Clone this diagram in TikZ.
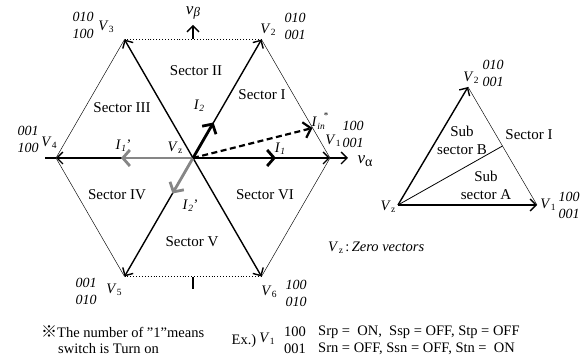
\documentclass[tikz,border=0pt]{standalone}
\usepackage{fontspec}
\setmainfont{Liberation Serif}
\newfontfamily\cjkfont{Noto Sans CJK JP}
\usetikzlibrary{arrows.meta,calc}
\newcommand\Vsub[1]{\textit{V}\kern0.3pt\raisebox{-0.35ex}{\fontsize{9.5}{9.5}\selectfont #1}}
\newcommand\Isub[1]{\textit{I}\kern0.3pt\raisebox{-0.35ex}{\fontsize{9.5}{9.5}\selectfont\itshape #1}}
\begin{document}
\begin{tikzpicture}[x=1pt,y=-1pt,
  every node/.style={inner sep=0pt},
  base/.style={font=\fontsize{14.5}{17}\selectfont},
  axl/.style={font=\fontsize{17}{17}\selectfont},
  sect/.style={font=\fontsize{15}{18}\selectfont, align=center},
  code/.style={font=\itshape\fontsize{14}{17}\selectfont, align=center},
  thinedge/.style={line width=0.45pt},
  dotedge/.style={line width=0.9pt, dotted},
  vec/.style={line width=1.4pt, -{Straight Barb[length=6pt,width=12pt]}},
  cur/.style={line width=2.8pt, -{Straight Barb[length=7pt,width=16pt]}},
  gcur/.style={cur, draw=gray!95},
  dcur/.style={line width=2.2pt, dash pattern=on 6pt off 3.5pt, -{Straight Barb[length=7pt,width=16pt]}},
  tick/.style={line width=2pt}
]
\useasboundingbox (0,0) rectangle (582,358);
% hexagon points
\coordinate (Vz) at (193,158);
\coordinate (V1) at (330,158);
\coordinate (V2) at (261.5,39.5);
\coordinate (V3) at (124.5,39.5);
\coordinate (V4) at (56,158);
\coordinate (V5) at (124.5,276.5);
\coordinate (V6) at (261.5,276.5);
\coordinate (ta) at (45,158);
\coordinate (tb1) at (193,277);
\coordinate (tb2) at (193,289);
\coordinate (bt) at (193,39.5);
\coordinate (btip) at (193,25);
\coordinate (atip) at (348,158);
\coordinate (I1e) at (276,158);
\coordinate (I2e) at (213.5,122.5);
\coordinate (Ine) at (312.5,128);
\coordinate (I1pe) at (121,158);
\coordinate (I2pe) at (172.5,193.5);
% hexagon edges
\draw[thinedge] (V1) -- (V2);
\draw[dotedge] (V2) -- (V3);
\draw[thinedge] (V3) -- (V4);
\draw[thinedge] (V4) -- (V5);
\draw[dotedge] (V5) -- (V6);
\draw[thinedge] (V6) -- (V1);
% axes
\draw[tick] (ta) -- (V4);
\draw[line width=1.6pt] (tb1) -- (tb2);
\draw[vec] (bt) -- (btip);
\draw[vec] (V1) -- (atip);
% voltage vectors
\draw[vec] (Vz) -- (V1);
\draw[vec] (Vz) -- (V2);
\draw[vec] (Vz) -- (V3);
\draw[vec] (Vz) -- (V4);
\draw[vec] (Vz) -- (V5);
\draw[vec] (Vz) -- (V6);
% currents
\draw[gcur] (Vz) -- (I1pe);
\draw[gcur] (Vz) -- (I2pe);
\draw[cur] (Vz) -- (I1e);
\draw[cur] (Vz) -- (I2e);
\draw[dcur] (Vz) -- (Ine);
% labels
\node[axl] (lb) at (193,13) {\textit{v}\raisebox{-0.3ex}{\fontsize{13}{13}\selectfont\itshape β}};
\node[axl] (la) at (365,161) {\textit{v}\raisebox{-0.3ex}{\fontsize{14}{14}\selectfont α}};
\node[base] (l1) at (333,141) {\Vsub{1}};
\node[code] (c1) at (353,134) {100\\001};
\node[base] (l2) at (268,30) {\Vsub{2}};
\node[code] (c2) at (295,26) {010\\001};
\node[base] (l3) at (106,27) {\Vsub{3}};
\node[code] (c3) at (83,25) {010\\100};
\node[base] (l4) at (49,143) {\Vsub{4}};
\node[code] (c4) at (28,139) {001\\100};
\node[base] (l5) at (114,290) {\Vsub{5}};
\node[code] (c5) at (86,291) {001\\010};
\node[base] (l6) at (269,292) {\Vsub{6}};
\node[code] (c6) at (296,293) {100\\010};
\node[base] (lz) at (175,148) {\Vsub{z}};
\node[sect] (s1) at (262,95) {Sector I};
\node[sect] (s2) at (196,71) {Sector II};
\node[sect] (s3) at (122,108) {Sector III};
\node[sect] (s4) at (117,195) {Sector IV};
\node[sect] (s5) at (192,242) {Sector V};
\node[sect] (s6) at (265,195) {Sector VI};
\node[base] (i1) at (280,149) {\Isub{1}};
\node[base] (i2) at (199,106) {\Isub{2}};
\node[base] (iin) at (320,121) {\textit{I}\kern0.3pt\raisebox{-0.35ex}{\fontsize{9.5}{9.5}\selectfont\itshape in}\kern-1pt\raisebox{1.2ex}{\fontsize{9}{9}\selectfont *}};
\node[base] (i1p) at (123,146) {\Isub{1}\kern-0.5pt\textit{'}};
\node[base] (i2p) at (190,206) {\Isub{2}\kern-0.5pt\textit{'}};
% right triangle
\coordinate (Tz) at (398,205);
\coordinate (T1) at (537,205);
\coordinate (T2) at (468,87);
\coordinate (Tm) at ($(T1)!0.5!(T2)$);
\draw[thinedge] (T1) -- (T2);
\draw[line width=0.8pt] (Tz) -- (Tm);
\draw[vec] (Tz) -- (T1);
\draw[vec] (Tz) -- (T2);
\node[base] (rz) at (388,207) {\Vsub{z}};
\node[base] (r1) at (548,205) {\Vsub{1}};
\node[code] (rc1) at (569,205) {100\\001};
\node[base] (r2) at (471,78) {\Vsub{2}};
\node[code] (rc2) at (493,73) {010\\001};
\node[sect] (sb) at (462,140) {Sub\\sector B};
\node[sect] (sa) at (486,185) {Sub\\sector A};
\node[sect] (rs1) at (529,135) {Sector I};
\node[base, anchor=west] (zv) at (328,248) {\Vsub{z}\,:\,\textit{Zero vectors}};
% bottom notes
\node[base, anchor=west] (n1) at (41,332) {{\cjkfont\fontsize{16}{17}\selectfont ※}The number of ”1”means};
\node[base, anchor=west] (n2) at (58,349) {switch is Turn on};
\node[base] (ex) at (244,341) {Ex.)};
\node[base] (exv) at (267,339) {\Vsub{1}};
\node[base, align=center, font=\fontsize{14.5}{17}\selectfont] (exc) at (295,340) {100\\001};
\node[base, anchor=west] (e1) at (318,332) {Srp =\ \ ON,\ \ Ssp = OFF, Stp = OFF};
\node[base, anchor=west] (e2) at (318,349) {Srn = OFF, Ssn = OFF, Stn =\ \ ON};
\end{tikzpicture}
\end{document}
